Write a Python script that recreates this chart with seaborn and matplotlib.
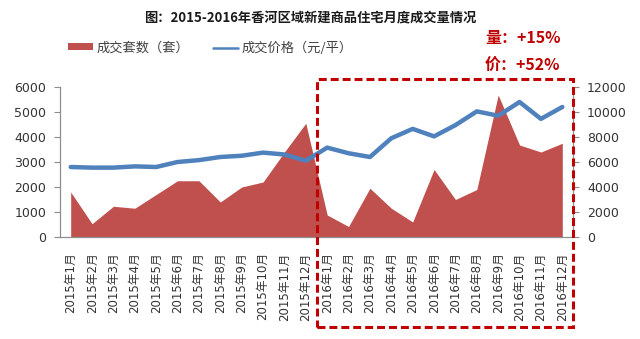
import matplotlib
matplotlib.use("Agg")
import matplotlib.pyplot as plt
import seaborn as sns
import numpy as np
import pandas as pd
from matplotlib.patches import Patch, Rectangle
from matplotlib.lines import Line2D
from matplotlib.ticker import FixedLocator

months = ["2015年1月", "2015年2月", "2015年3月", "2015年4月", "2015年5月", "2015年6月",
          "2015年7月", "2015年8月", "2015年9月", "2015年10月", "2015年11月", "2015年12月",
          "2016年1月", "2016年2月", "2016年3月", "2016年4月", "2016年5月", "2016年6月",
          "2016年7月", "2016年8月", "2016年9月", "2016年10月", "2016年11月", "2016年12月"]
volume = [1800, 530, 1230, 1150, 1700, 2250, 2250, 1400, 2000, 2200, 3400, 4550,
          880, 420, 1950, 1150, 600, 2700, 1500, 1900, 5680, 3680, 3400, 3750]
price = [5600, 5550, 5550, 5650, 5600, 6000, 6150, 6400, 6500, 6750, 6600, 6100,
         7150, 6700, 6400, 7900, 8650, 8050, 8950, 10050, 9700, 10800, 9450, 10400]
left_ticks = [0, 1000, 2000, 3000, 4000, 5000, 6000]
right_ticks = [0, 2000, 4000, 6000, 8000, 10000, 12000]

sns.set_theme(style="white")
plt.rcParams['font.family'] = ['Noto Sans CJK SC', 'DejaVu Sans']

AREA = "#C0504D"
LINE = "#4F81BD"
BOX = "#C00000"
AXC = "#8C8C8C"
TXT = "#333333"

df = pd.DataFrame({"month": months, "volume": volume, "price": price})
df["pos"] = np.arange(len(df))

fig = plt.figure(figsize=(6.4, 3.39), dpi=100)
ax = fig.add_axes([60/640, 1-237/339, (573-60)/640, (237-87)/339])
ax2 = ax.twinx()

ax.fill_between(df["pos"], 0, df["volume"], color=AREA, linewidth=0)
sns.lineplot(data=df, x="pos", y="price", ax=ax2, color=LINE, linewidth=3.2,
             solid_joinstyle="round", solid_capstyle="round", legend=False)

ax.set_xlim(-0.5, len(df) - 0.5)
ax.set_ylim(0, 6000)
ax2.set_ylim(0, 12000)
ax.set_yticks(left_ticks)
ax2.set_yticks(right_ticks)
ax.set_xlabel("")
ax.set_ylabel("")
ax2.set_xlabel("")
ax2.set_ylabel("")

ax.set_xticks(df["pos"])
ax.set_xticklabels(months, rotation=90, va="top", ha="center",
                   family=['DejaVu Sans', 'Noto Sans CJK SC'], fontsize=8.5, color=TXT)
ax.xaxis.set_minor_locator(FixedLocator(np.arange(-0.5, len(df), 1.0)))
ax.tick_params(axis="x", which="major", length=0, pad=11)
ax.tick_params(axis="x", which="minor", length=5, color=AXC, width=0.8, direction="out")
ax.tick_params(axis="y", length=4, color=AXC, width=0.8, direction="out",
               labelsize=9, labelcolor=TXT, pad=6)
ax2.tick_params(axis="y", length=4, color=AXC, width=0.8, direction="out",
                labelsize=9, labelcolor=TXT, pad=6)
for lab in ax.get_yticklabels() + ax2.get_yticklabels():
    lab.set_family(['DejaVu Sans', 'Noto Sans CJK SC'])

for a in (ax, ax2):
    a.spines["top"].set_visible(False)
    for s in ("left", "bottom", "right"):
        a.spines[s].set_color(AXC)
        a.spines[s].set_linewidth(0.8)
    a.grid(False)

fig.text(310/640, 1-18/339, "图：2015-2016年香河区域新建商品住宅月度成交量情况",
         ha="center", va="center", fontsize=9.5, fontweight="bold", color="#1a1a1a")

handles = [Patch(facecolor=AREA, edgecolor="none"),
           Line2D([0], [0], color=LINE, linewidth=1.8)]
leg = fig.legend(handles, ["成交套数（套）", "成交价格（元/平）"], ncol=2, frameon=False,
                 loc="center left", bbox_to_anchor=(56/640, 1-48/339),
                 fontsize=9.5, handlelength=1.9, handleheight=0.45, handletextpad=0.25,
                 columnspacing=1.8, labelcolor="#404040")

fig.text(485/640, 1-38/339, "量：+15%", ha="left", va="center", fontsize=11.5,
         fontweight="bold", color=BOX)
fig.text(485/640, 1-65/339, "价：+52%", ha="left", va="center", fontsize=11.5,
         fontweight="bold", color=BOX)

rect = Rectangle((317/640, 1-327/339), (573-317)/640, (327-79)/339,
                 transform=fig.transFigure, fill=False, edgecolor=BOX,
                 linewidth=2.2, linestyle=(0, (2.6, 1.3)), clip_on=False, zorder=10)
fig.add_artist(rect)

fig.savefig("out.png", dpi=100)
